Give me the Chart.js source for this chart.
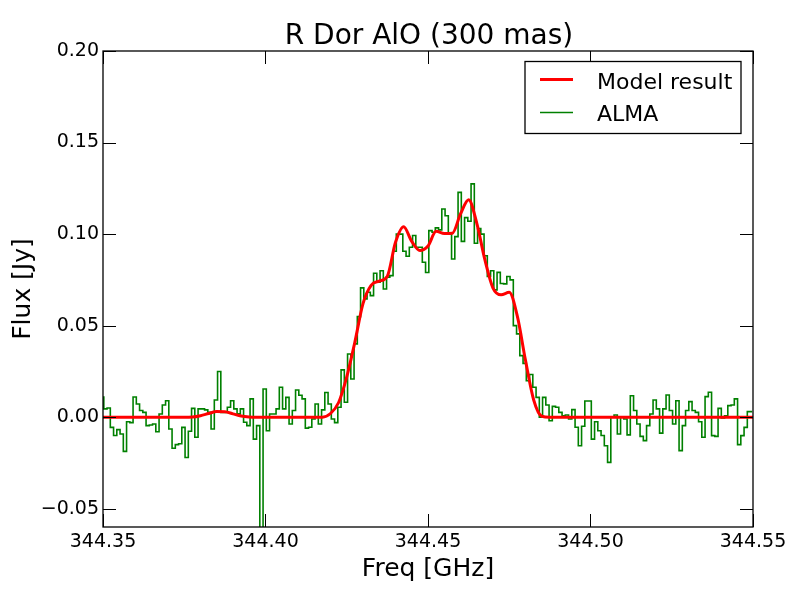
<!DOCTYPE html>
<html>
<head>
<meta charset="utf-8">
<script src="https://cdn.jsdelivr.net/npm/chart.js@4.4.1/dist/chart.umd.min.js"></script>
<style>
  html, body { margin: 0; padding: 0; background: #fff; }
  canvas { display: block; }
</style>
</head>
<body>
<canvas id="chart" width="800" height="600"></canvas>
<script>
// ALMA spectrum, one value per 1 MHz channel
var almaStart = 344.34975;
var almaWidth = 0.001;
var almaFlux = [
  0.011, 0.0045, 0.005, -0.0056, -0.010, -0.0068, -0.0092, -0.0187, -0.0025, -0.003,
  0.011, 0.0072, 0.0036, 0.0026, -0.0046, -0.0043, -0.0037, -0.008, 0.0017, 0.0066,
  0.009, -0.0065, -0.017, -0.015, -0.0145, -0.0056, -0.022, -0.0077, 0.0048, -0.011,
  0.0045, 0.0045, 0.004, 0.0026, -0.0065, 0.0094, 0.0249, 0.0026, 0.0026, 0.0054,
  0.009, 0.0045, 0.0018, 0.0045, -0.0028, -0.0046, 0.010, -0.012, -0.0046, -0.09,
  0.0154, -0.0074, 0.0017, 0.0017, 0.0045, 0.0163, 0.0045, 0.0108, -0.0037, 0.0036,
  0.0148, 0.012, 0.010, -0.006, -0.0055, -0.001, 0.0072, -0.0037, 0.004, 0.0135,
  0.0072, -0.001, -0.003, 0.0054, 0.0258, 0.0081, 0.0345, 0.0208, 0.040, 0.0549,
  0.0706, 0.0646, 0.0682, 0.0664, 0.0786, 0.0737, 0.080, 0.070, 0.0764, 0.0773,
  0.0906, 0.100, 0.100, 0.0906, 0.0879, 0.0928, 0.0992, 0.0928, 0.0928, 0.0846,
  0.079, 0.1019, 0.101, 0.1034, 0.1023, 0.1137, 0.110, 0.100, 0.0864, 0.0986,
  0.1228, 0.096, 0.109, 0.107, 0.1274, 0.095, 0.103, 0.100, 0.0882, 0.0768,
  0.080, 0.0695, 0.0791, 0.073, 0.0728, 0.0768, 0.075, 0.050, 0.0455, 0.0336,
  0.0294, 0.0199, 0.0233, 0.0163, 0.0108, 0, 0.0108, 0.0066, -0.002, 0.0059,
  0.0054, 0.0026, 0.0008, 0.0012, -0.001, 0.0041, -0.0055, -0.0156, -0.005, 0.0088,
  0.0088, -0.012, -0.0025, -0.0074, -0.010, -0.0156, -0.0247, 0, 0.0012, -0.0092,
  0, -0.001, -0.0097, 0.0117, 0.0036, -0.0037, -0.0105, -0.0128, -0.0046, 0.0017,
  0.0094, 0.0045, -0.0087, 0.0045, 0.0121, 0.0036, -0.0037, 0.009, -0.0183, -0.0046,
  0.0036, 0.0085, 0.0036, 0.0026, -0.0025, -0.011, 0.0112, 0.0136, -0.0101, -0.0105,
  0.0048, -0.0005, 0.0008, 0.0063, 0.0066, 0.010, -0.015, -0.0101, -0.0056, 0.003,
  0.003
];

// model curve, sampled every 2.5 MHz
var modelStart = 344.35;
var modelStep = 0.0025;
var modelFlux = [
  0, 0, 0, 0, 0, 0, 0, 0, 0, 0,
  0, 0.0001, 0.0008, 0.002, 0.0031, 0.003, 0.0018, 0.0006, 0.0001, 0,
  0, 0, 0, 0, 0, 0, 0, 0, 0.002, 0.008,
  0.022, 0.041, 0.062, 0.072, 0.0743, 0.077, 0.0955, 0.104, 0.096, 0.091,
  0.0935, 0.1015, 0.1003, 0.1005, 0.111, 0.1188, 0.106, 0.086, 0.0705, 0.0668,
  0.0682, 0.055, 0.031, 0.0095, 0.0005, 0, 0, 0, 0, 0,
  0, 0, 0, 0, 0, 0, 0, 0, 0, 0,
  0, 0, 0, 0, 0, 0, 0, 0, 0, 0,
  0
];

var xTicks = [344.35, 344.40, 344.45, 344.50, 344.55];
var yTicks = [-0.05, 0.00, 0.05, 0.10, 0.15, 0.20];

var FONT = '"DejaVu Sans", sans-serif';

var almaPoints = almaFlux.map(function(v, i) {
  return {x: almaStart + i * almaWidth, y: v};
});
var modelPoints = modelFlux.map(function(v, i) {
  return {x: modelStart + i * modelStep, y: v};
});

// frame, inward ticks on all four sides, title and legend box
var decorations = {
  id: 'decorations',
  afterDatasetsDraw: function(chart) {
    var ctx = chart.ctx, a = chart.chartArea;
    var xs = chart.scales.x, ys = chart.scales.y;
    ctx.save();
    ctx.strokeStyle = '#000';
    ctx.lineWidth = 1;
    ctx.beginPath();
    xTicks.forEach(function(v) {
      var p = Math.round(xs.getPixelForValue(v)) + 0.5;
      ctx.moveTo(p, a.bottom); ctx.lineTo(p, a.bottom - 13);
      ctx.moveTo(p, a.top); ctx.lineTo(p, a.top + 13);
    });
    yTicks.forEach(function(v) {
      var p = Math.round(ys.getPixelForValue(v)) + 0.5;
      ctx.moveTo(a.left, p); ctx.lineTo(a.left + 13, p);
      ctx.moveTo(a.right, p); ctx.lineTo(a.right - 13, p);
    });
    ctx.stroke();
    ctx.lineWidth = 1.3;
    ctx.strokeRect(a.left, a.top, a.right - a.left, a.bottom - a.top);
    ctx.restore();
  },
  afterDraw: function(chart) {
    var ctx = chart.ctx, a = chart.chartArea;
    ctx.save();
    // title
    ctx.fillStyle = '#000';
    ctx.font = '28px ' + FONT;
    ctx.textAlign = 'center';
    ctx.textBaseline = 'alphabetic';
    ctx.fillText('R Dor AlO (300 mas)', (a.left + a.right) / 2 + 1, 43.5);

    // legend
    var bx = a.right - 228, by = a.top + 10.5, bw = 216, bh = 72;
    ctx.fillStyle = '#fff';
    ctx.fillRect(bx, by, bw, bh);
    ctx.strokeStyle = '#000';
    ctx.lineWidth = 1.3;
    ctx.strokeRect(bx, by, bw, bh);

    ctx.lineWidth = 3;
    ctx.strokeStyle = '#ff0000';
    ctx.beginPath();
    ctx.moveTo(bx + 15, by + 18); ctx.lineTo(bx + 48, by + 18);
    ctx.stroke();
    ctx.lineWidth = 1.6;
    ctx.strokeStyle = '#008000';
    ctx.beginPath();
    ctx.moveTo(bx + 15, by + 51); ctx.lineTo(bx + 48, by + 51);
    ctx.stroke();

    ctx.fillStyle = '#000';
    ctx.font = '22px ' + FONT;
    ctx.textAlign = 'left';
    ctx.fillText('Model result', bx + 72, by + 27);
    ctx.fillText('ALMA', bx + 72, by + 59);
    ctx.restore();
  }
};

new Chart(document.getElementById('chart').getContext('2d'), {
  type: 'line',
  data: {
    datasets: [{
      label: 'Model result',
      data: modelPoints,
      borderColor: '#ff0000',
      borderWidth: 3,
      pointRadius: 0,
      fill: false,
      cubicInterpolationMode: 'monotone'
    }, {
      label: 'ALMA',
      data: almaPoints,
      borderColor: '#008000',
      borderWidth: 1.6,
      pointRadius: 0,
      fill: false,
      stepped: 'middle'
    }]
  },
  options: {
    responsive: false,
    animation: false,
    devicePixelRatio: 1,
    layout: {padding: {top: 51, right: 47, left: 0, bottom: 0}},
    plugins: {
      legend: {display: false},
      tooltip: {enabled: false},
      title: {display: false}
    },
    scales: {
      x: {
        type: 'linear',
        min: 344.35,
        max: 344.55,
        grid: {display: false, drawTicks: false},
        border: {display: false},
        afterBuildTicks: function(scale) {
          scale.ticks = xTicks.map(function(v) { return {value: v}; });
        },
        afterFit: function(scale) { scale.height = 73; },
        ticks: {
          autoSkip: false,
          maxRotation: 0,
          padding: 4,
          color: '#000',
          font: {family: FONT, size: 19},
          callback: function(v) { return v.toFixed(2); }
        },
        title: {
          display: true,
          text: 'Freq [GHz]',
          color: '#000',
          font: {family: FONT, size: 25},
          padding: {top: 0, bottom: 16}
        }
      },
      y: {
        min: -0.06,
        max: 0.20,
        grid: {display: false, drawTicks: false},
        border: {display: false},
        afterBuildTicks: function(scale) {
          scale.ticks = yTicks.map(function(v) { return {value: v}; });
        },
        afterFit: function(scale) { scale.width = 103; },
        ticks: {
          autoSkip: false,
          padding: 4,
          color: '#000',
          font: {family: FONT, size: 19},
          callback: function(v) {
            return (v < -1e-9 ? '\u2212' : '') + Math.abs(v).toFixed(2);
          }
        },
        title: {
          display: true,
          text: 'Flux [Jy]',
          color: '#000',
          font: {family: FONT, size: 25},
          padding: {top: 8, bottom: 0}
        }
      }
    }
  },
  plugins: [decorations]
});
</script>
</body>
</html>
